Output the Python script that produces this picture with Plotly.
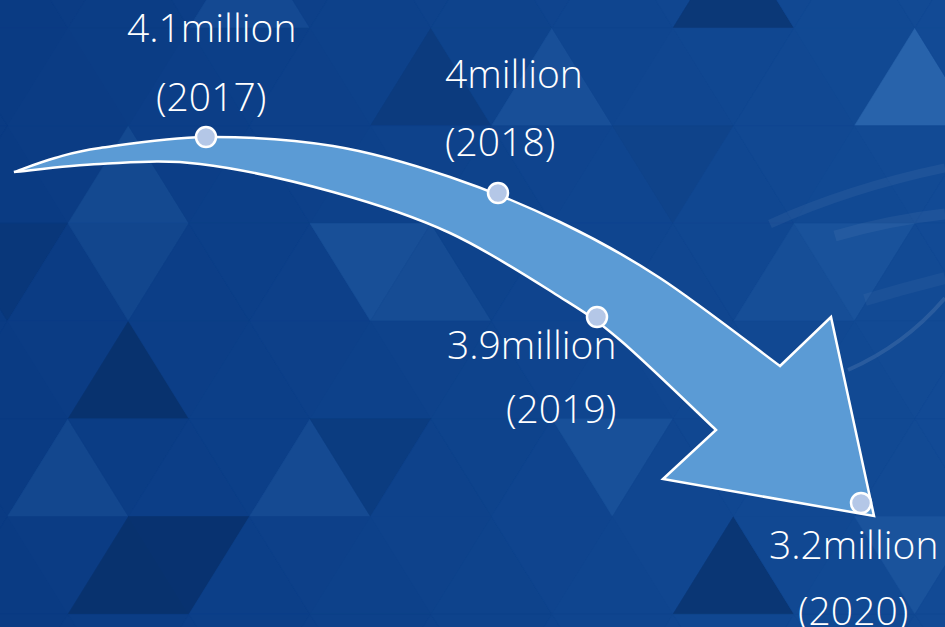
import plotly.graph_objects as go

# ---------------- data ----------------
years = [2017, 2018, 2019, 2020]
values_million = [4.1, 4.0, 3.9, 3.2]
value_unit = "million"

# ---------------- layout constants (infographic placement, px-space) ----------------
W, H = 945, 627
# where each year's dot sits on the arrow
dot_pos = {2017: (206, 137), 2018: (498, 193), 2019: (597, 317), 2020: (861, 503)}
# label placement: (x, y_value, y_year, xanchor)
label_pos = {
    2017: (211, 26, 95, "center"),
    2018: (443, 72, 140, "left"),
    2019: (618, 343, 407, "right"),
    2020: (853, 543, 609, "center"),
}

# arrow outline anchors
upper_edge = [(14, 172), (55, 158), (100, 148), (206, 137), (333, 146), (450, 177),
              (560, 222), (660, 278), (780, 366)]
head = [(831, 317), (874, 516), (663, 479), (716, 430)]
lower_edge = [(14, 172), (100, 164), (200, 164), (333, 192), (450, 233),
              (560, 297), (620, 340), (716, 430)]


def hex2rgb(h):
    h = h.lstrip("#")
    return tuple(int(h[i:i + 2], 16) for i in (0, 2, 4))


def mix_rgb(c1, c2, t):
    a, b = hex2rgb(c1), hex2rgb(c2)
    return "#%02x%02x%02x" % tuple(round(a[i] + (b[i] - a[i]) * t) for i in range(3))


# ---------------- background triangle tessellation ----------------
ROW_H = 97.7
SIDE = 121.0
Y0 = 28.0
X0 = 68.0
BASE_L, BASE_R = "#0a3b83", "#124a95"
LIGHT, DARK = "#3a78bd", "#042658"

# notable shades: (row, apex_x, factor) positive=lighter, negative=darker
notable = [
    (-1, 249.5, 0.18), (-1, 733.5, -0.45),
    (0, 552, 0.22), (0, 915, 0.55), (0, 431, -0.25),
    (1, 128.5, 0.2), (1, 673, -0.1),
    (2, 370.5, 0.25), (2, 431, 0.18), (2, 128.5, 0.15), (2, 7.5, -0.2),
    (2, 854.5, 0.2), (2, 794, 0.12),
    (3, 128.5, -0.5),
    (4, 68, 0.18), (4, 310, 0.18), (4, 370.5, -0.2), (4, 612.5, 0.22),
    (5, 128.5, -0.5), (5, 189, -0.5), (5, 733.5, -0.5), (5, 915, 0.2),
]

shapes = []
for r in range(-1, 7):
    yt = Y0 + r * ROW_H
    yb = yt + ROW_H
    off = X0 + (SIDE / 2 if r % 2 else 0)
    for j in range(-4, 40):
        cx = off + j * SIDE / 2 - SIDE
        if cx < -SIDE or cx > W + SIDE:
            continue
        up = (j % 2 == 0)
        base = mix_rgb(BASE_L, BASE_R, min(max(cx / W, 0), 1))
        col = base
        for (nr, nx, f) in notable:
            if nr == r and abs(nx - cx) < 5:
                col = mix_rgb(base, LIGHT if f > 0 else DARK, abs(f))
        if up:
            path = f"M {cx},{yt} L {cx + SIDE / 2},{yb} L {cx - SIDE / 2},{yb} Z"
        else:
            path = f"M {cx},{yb} L {cx + SIDE / 2},{yt} L {cx - SIDE / 2},{yt} Z"
        shapes.append(dict(type="path", path=path, xref="x", yref="y",
                           fillcolor=col, line=dict(width=0.6, color=col), layer="below"))

# faint swoosh lines on the right
swooshes = [
    ("M 770,224 Q 850,188 945,168", 9, 0.05),
    ("M 835,236 Q 890,220 945,214", 11, 0.05),
    ("M 848,370 Q 905,345 945,298", 4, 0.10),
    ("M 865,300 Q 905,288 945,278", 12, 0.04),
]
for p, w, a in swooshes:
    shapes.append(dict(type="path", path=p, xref="x", yref="y",
                       line=dict(width=w, color=f"rgba(255,255,255,{a})"), layer="below"))


# ---------------- arrow ----------------
def bezier_segments(pts):
    segs = []
    n = len(pts)
    for i in range(n - 1):
        p0 = pts[i - 1] if i > 0 else pts[i]
        p1, p2 = pts[i], pts[i + 1]
        p3 = pts[i + 2] if i + 2 < n else pts[i + 1]
        c1 = (p1[0] + (p2[0] - p0[0]) / 6, p1[1] + (p2[1] - p0[1]) / 6)
        c2 = (p2[0] - (p3[0] - p1[0]) / 6, p2[1] - (p3[1] - p1[1]) / 6)
        segs.append(f"C {c1[0]:.1f},{c1[1]:.1f} {c2[0]:.1f},{c2[1]:.1f} {p2[0]},{p2[1]}")
    return " ".join(segs)


arrow_path = f"M {upper_edge[0][0]},{upper_edge[0][1]} " + bezier_segments(upper_edge)
arrow_path += " " + " ".join(f"L {x},{y}" for x, y in head)
arrow_path += " " + bezier_segments(list(reversed(lower_edge))) + " Z"
shapes.append(dict(type="path", path=arrow_path, xref="x", yref="y",
                   fillcolor="#5b9bd5", line=dict(width=2.5, color="white"), layer="below"))

# ---------------- figure ----------------
fig = go.Figure()
fig.add_trace(go.Scatter(
    x=[dot_pos[y][0] for y in years],
    y=[dot_pos[y][1] for y in years],
    mode="markers",
    marker=dict(size=20, color="#b4c7e7", line=dict(width=2.5, color="white")),
    hoverinfo="text",
    text=[f"{v:g}{value_unit} ({y})" for v, y in zip(values_million, years)],
    showlegend=False,
))

FONT = dict(family="Open Sans, Noto Sans, sans-serif", size=39, color="white", weight=300)
annotations = []
for yr, v in zip(years, values_million):
    x, yv, yy, xa = label_pos[yr]
    annotations.append(dict(x=x, y=yv, xref="x", yref="y", text=f"{v:g}{value_unit}",
                            showarrow=False, xanchor=xa, yanchor="middle", font=FONT))
    annotations.append(dict(x=x, y=yy, xref="x", yref="y", text=f"({yr})",
                            showarrow=False, xanchor=xa, yanchor="middle", font=FONT))

fig.update_layout(
    width=W, height=H,
    margin=dict(l=0, r=0, t=0, b=0),
    paper_bgcolor="#0b3f87",
    plot_bgcolor="#0b3f87",
    shapes=shapes,
    annotations=annotations,
    xaxis=dict(range=[0, W], visible=False, fixedrange=True),
    yaxis=dict(range=[H, 0], visible=False, fixedrange=True),
)

fig.write_html("out.html", config={"displayModeBar": False},
               post_script="document.body.style.margin='0';document.body.style.overflow='hidden';")
